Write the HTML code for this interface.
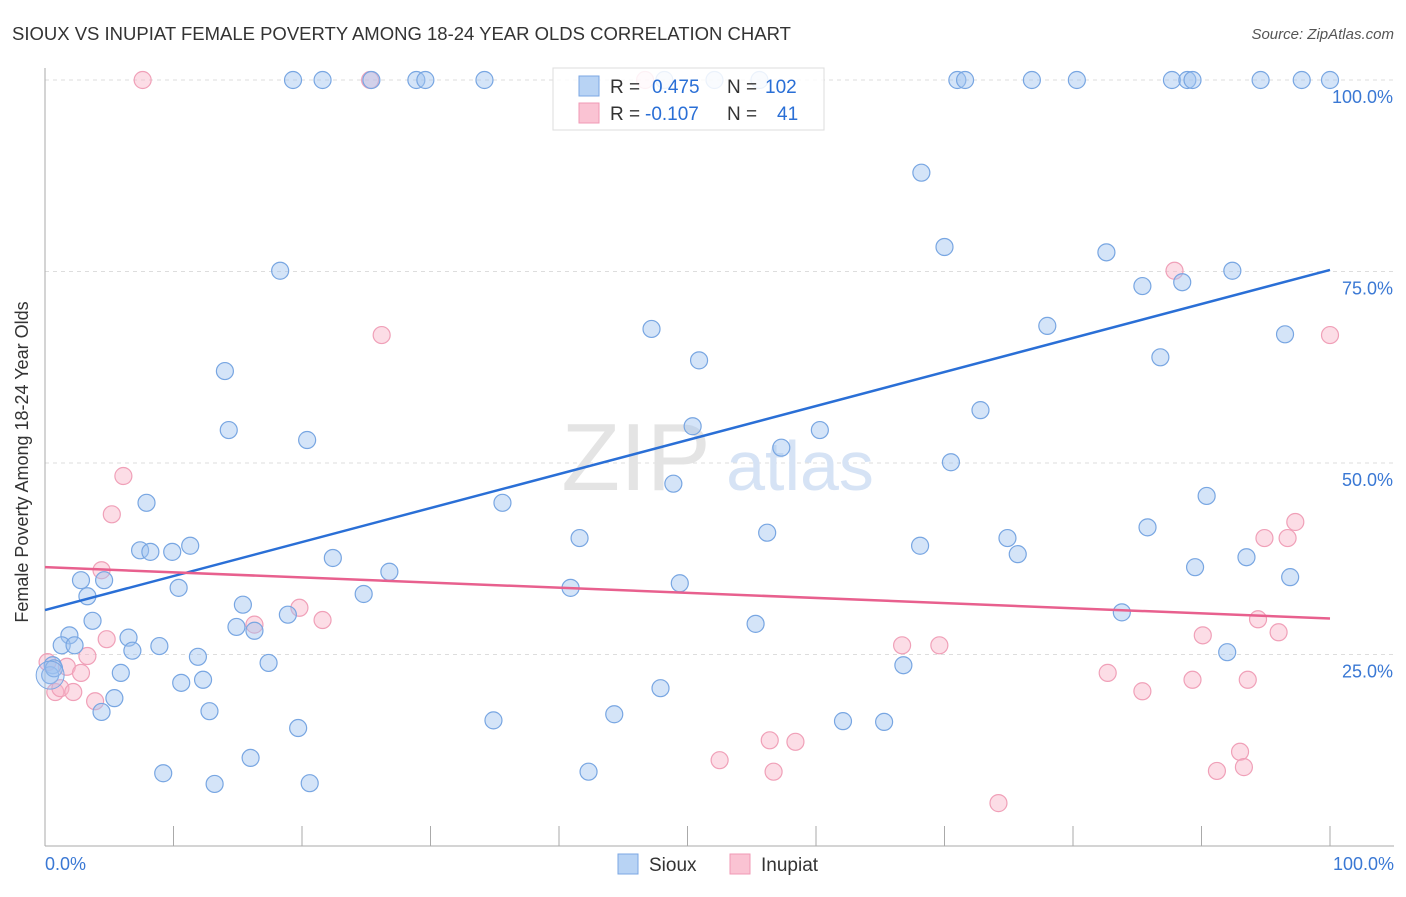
<!DOCTYPE html>
<html><head><meta charset="utf-8">
<style>
body{margin:0;background:#fff;font-family:"Liberation Sans",sans-serif;}
svg text{font-family:"Liberation Sans",sans-serif;}
</style></head>
<body>
<svg id="chart" width="1406" height="892" viewBox="0 0 1406 892" xmlns="http://www.w3.org/2000/svg">
<text x="12" y="40" font-size="18.5" fill="#333">SIOUX VS INUPIAT FEMALE POVERTY AMONG 18-24 YEAR OLDS CORRELATION CHART</text>
<text x="1394" y="39" font-size="15" fill="#555" text-anchor="end" font-style="italic">Source: ZipAtlas.com</text>
<g id="grid"></g>
<text x="636" y="490" font-size="96" fill="#e4e4e4" font-family="Liberation Serif" text-anchor="middle">ZIP</text>
<text x="800" y="490" font-size="70" fill="#d6e3f5" text-anchor="middle">atlas</text>
<g id="pts"></g>
<g id="lines"></g>
<text x="22" y="456" font-size="18" fill="#333" text-anchor="middle" transform="rotate(-90 28 456)">Female Poverty Among 18-24 Year Olds</text>
<text x="45" y="870" font-size="18" fill="#3a78d4">0.0%</text>
<text x="1394" y="870" font-size="18" fill="#3a78d4" text-anchor="end">100.0%</text>
<g>
<rect x="553" y="68" width="271" height="62" fill="rgba(255,255,255,0.85)" stroke="#ddd"/>
<rect x="579" y="76" width="20" height="20" fill="#b8d3f4" stroke="#7ba7e3"/>
<rect x="579" y="103" width="20" height="20" fill="#fac3d3" stroke="#f09ab6"/>
<text x="610" y="93" font-size="19" fill="#333">R =</text>
<text x="652" y="93" font-size="19" fill="#2a6fd6">0.475</text>
<text x="727" y="93" font-size="19" fill="#333">N =</text>
<text x="765" y="93" font-size="19" fill="#2a6fd6">102</text>
<text x="610" y="120" font-size="19" fill="#333">R =</text>
<text x="645" y="120" font-size="19" fill="#2a6fd6">-0.107</text>
<text x="727" y="120" font-size="19" fill="#333">N =</text>
<text x="777" y="120" font-size="19" fill="#2a6fd6">41</text>
</g>
<g>
<rect x="618" y="854" width="20" height="20" fill="#b8d3f4" stroke="#7ba7e3"/>
<text x="649" y="871" font-size="19" fill="#333">Sioux</text>
<rect x="730" y="854" width="20" height="20" fill="#fac3d3" stroke="#f09ab6"/>
<text x="761" y="871" font-size="19" fill="#333">Inupiat</text>
</g>
</svg>
<script>
const yTicks=[100,75,50,25];
const yTickLabels=["100.0%","75.0%","50.0%","25.0%"];
const xTicks=[10,20,30,40,50,60,70,80,90,100];
const siouxX=[19.3,21.6,25.4,28.9,29.6,34.2,48.2,52.1,55.6,71.0,71.6,76.8,80.3,87.7,88.9,89.3,94.6,97.8,100,68.2,70.0,82.6,85.4,88.5,92.4,18.3,47.2,78.0,96.5,50.9,86.8,14.0,72.8,14.3,60.3,50.4,20.4,57.3,70.5,48.9,7.9,35.6,90.4,85.8,41.6,56.2,74.9,68.1,75.7,11.3,7.4,8.2,9.9,22.4,93.5,2.8,4.6,26.8,89.5,96.9,10.4,3.3,40.9,49.4,24.8,15.4,83.8,3.7,18.9,14.9,16.3,55.3,1.9,6.5,1.3,2.3,8.9,6.8,92.0,11.9,17.4,0.6,66.8,5.9,10.6,12.3,47.9,5.4,4.4,12.8,44.3,34.9,19.7,62.1,65.3,16.0,9.2,42.3,13.2,20.6,0.4,0.7];
const siouxY=[100,100,100,100,100,100,100,100,100,100,100,100,100,100,100,100,100,100,100,87.9,78.2,77.5,73.1,73.6,75.1,75.1,67.5,67.9,66.8,63.4,63.8,62.0,56.9,54.3,54.3,54.8,53.0,52.0,50.1,47.3,44.8,44.8,45.7,41.6,40.2,40.9,40.2,39.2,38.1,39.2,38.6,38.4,38.4,37.6,37.7,34.7,34.7,35.8,36.4,35.1,33.7,32.6,33.7,34.3,32.9,31.5,30.5,29.4,30.2,28.6,28.1,29.0,27.5,27.2,26.2,26.2,26.1,25.5,25.3,24.7,23.9,23.6,23.6,22.6,21.3,21.7,20.6,19.3,17.5,17.6,17.2,16.4,15.4,16.3,16.2,11.5,9.5,9.7,8.1,8.2,22.3,23.2];
const inupiatX=[7.6,25.3,46.7,26.2,6.1,5.2,4.4,4.8,3.3,1.7,2.8,0.2,0.8,1.2,2.2,3.9,19.8,21.6,16.3,87.9,100,97.3,94.9,96.7,94.4,96.0,90.1,66.7,69.6,82.7,85.4,89.3,93.6,93.0,93.3,91.2,56.4,58.4,52.5,56.7,74.2];
const inupiatY=[100,100,100,66.7,48.3,43.3,36.0,27.0,24.8,23.4,22.6,24.0,20.1,20.6,20.1,18.9,31.1,29.5,28.9,75.1,66.7,42.3,40.2,40.2,29.6,27.9,27.5,26.2,26.2,22.6,20.2,21.7,21.7,12.3,10.3,9.8,13.8,13.6,11.2,9.7,5.6];
const trendX=[0,100];
const siouxTrend=[30.8,75.2];
const inupiatTrend=[36.4,29.7];
const NS="http://www.w3.org/2000/svg";
const X=v=>45+12.85*v, Y=v=>846-7.66*v;
function mk(t,a,p){const e=document.createElementNS(NS,t);for(const k in a)e.setAttribute(k,a[k]);p.appendChild(e);return e;}
const grid=document.getElementById('grid');
yTicks.forEach((t,i)=>{
 const l=mk('line',{x1:45,x2:1394,y1:Y(t),y2:Y(t),stroke:'#ddd','stroke-dasharray':'4,4'},grid);
 
 
 const tx=mk('text',{x:1393,y:Y(t)+23,'font-size':18,fill:'#3a78d4','text-anchor':'end'},grid);
 tx.textContent=yTickLabels[i];
 
 
});
const ax=mk('line',{x1:45,x2:45,y1:68,y2:846,stroke:'#aaa'},grid);


const bx=mk('line',{x1:45,x2:1394,y1:846,y2:846,stroke:'#aaa'},grid);


xTicks.forEach(t=>{
 const l=mk('line',{x1:X(t),x2:X(t),y1:826,y2:846,stroke:'#aaa'},grid);
 
 
});
const pts=document.getElementById('pts');
function dots(xs,ys,fill,stroke,name){
 xs.forEach((x,i)=>{
  const c=mk('circle',{cx:X(x),cy:Y(ys[i]),r:8.5,fill:fill,stroke:stroke,'stroke-width':1.2},pts);
  
  
 });
}
dots(inupiatX,inupiatY,'rgba(248,180,200,0.45)','#f0a0b8','inupiat-point');
dots(siouxX,siouxY,'rgba(160,196,240,0.45)','#78a6e2','sioux-point');
const big=mk('circle',{cx:X(0.4),cy:Y(22.3),r:14,fill:'rgba(160,196,240,0.35)',stroke:'#78a6e2'},pts);


const lines=document.getElementById('lines');
const l1=mk('line',{x1:X(trendX[0]),x2:X(trendX[1]),y1:Y(siouxTrend[0]),y2:Y(siouxTrend[1]),stroke:'#2a6fd6','stroke-width':2.5},lines);


const l2=mk('line',{x1:X(trendX[0]),x2:X(trendX[1]),y1:Y(inupiatTrend[0]),y2:Y(inupiatTrend[1]),stroke:'#e8608e','stroke-width':2.5},lines);


</script>
</body></html>
